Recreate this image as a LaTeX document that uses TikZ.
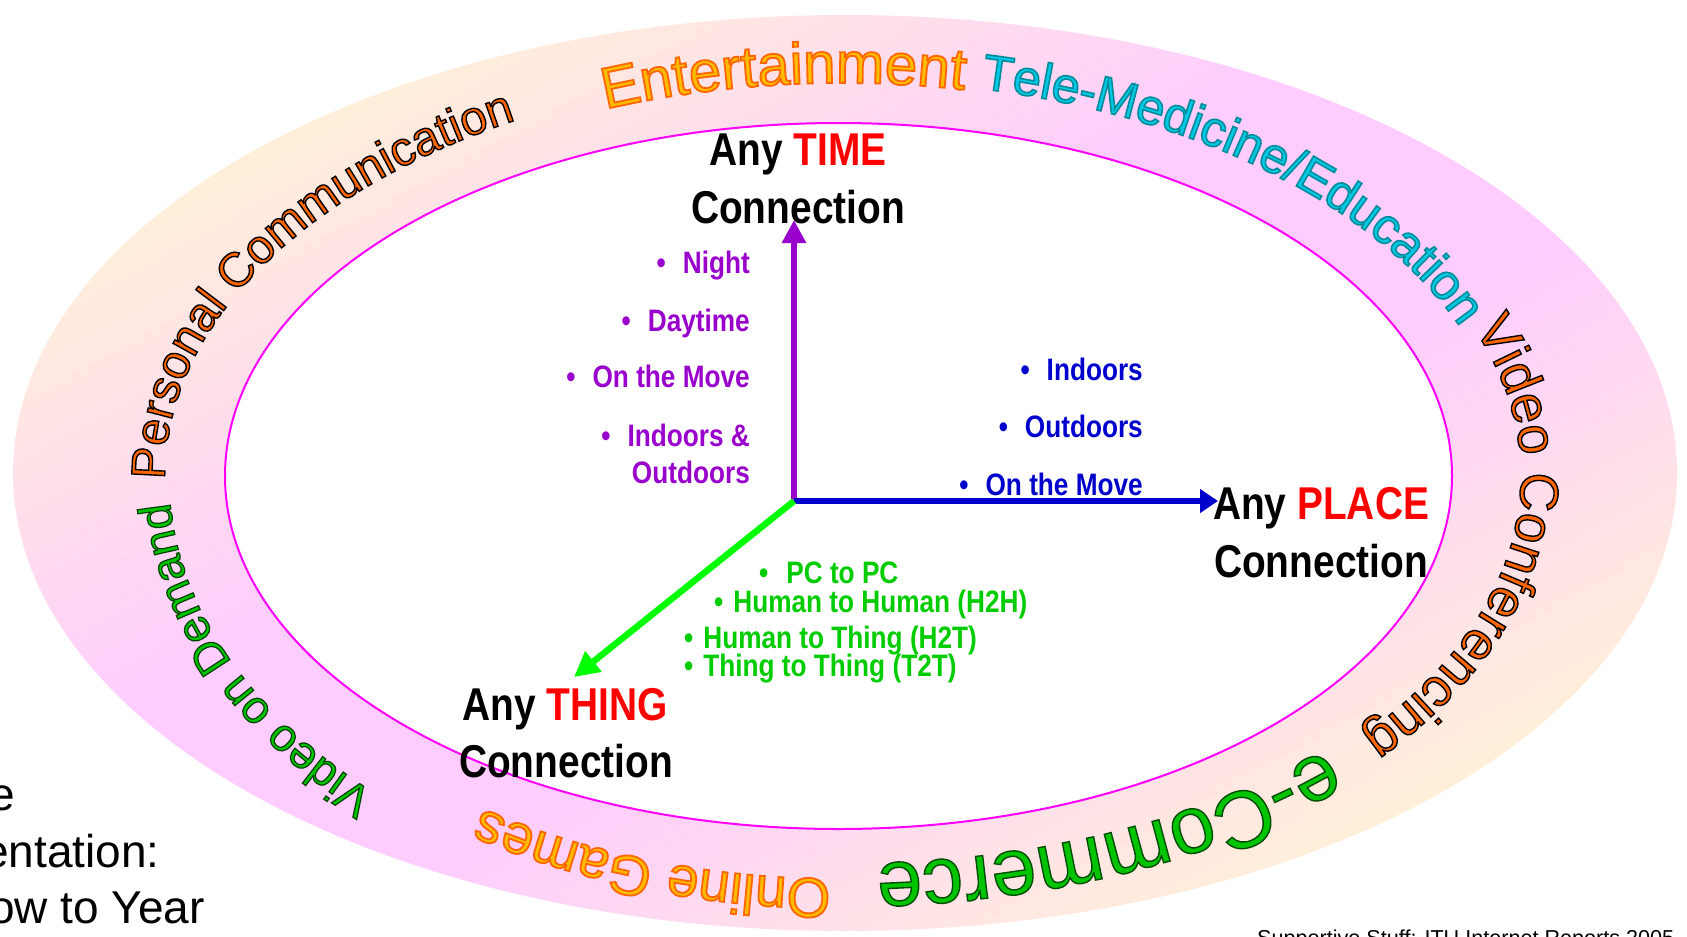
\documentclass[tikz,border=0pt]{standalone}
\usepackage{fontspec}
\setmainfont{Liberation Sans}
\newfontfamily\narrowfont[FakeStretch=0.845]{Liberation Sans}
\usetikzlibrary{decorations.text,arrows.meta}

\definecolor{ringpink}{RGB}{255,204,255}
\definecolor{ringyellow}{RGB}{255,244,212}
\definecolor{ringline}{RGB}{255,0,255}
\definecolor{timepurple}{HTML}{9900CC}
\definecolor{placeblue}{HTML}{0000CC}
\definecolor{thinggreen}{HTML}{00CC00}
\definecolor{arrowgreen}{HTML}{00FF00}
\definecolor{orangefill}{HTML}{FF6600}
\definecolor{goldfill}{HTML}{FFBB00}
\definecolor{tealfill}{HTML}{00C8E6}
\definecolor{greenfill}{HTML}{00C400}
\definecolor{titlered}{RGB}{255,0,0}

% ring colouring: pink across the middle, pale yellow towards two opposite corners
\pgfdeclareverticalshading{ringshade}{200bp}{color(0bp)=(ringyellow); color(45bp)=(ringyellow);
  color(88bp)=(ringpink); color(112bp)=(ringpink); color(155bp)=(ringyellow); color(200bp)=(ringyellow)}

% outlined glyphs: fill colour from \color, stroke colour and width set directly
\newcommand\outlinergb[2]{\special{pdf:literal direct #1 RG #2 w 2 Tr}}
\newcommand\fmtPers{\fontsize{48}{48}\selectfont\color{orangefill}\outlinergb{0 0 0}{1.4}}
\newcommand\fmtEnt{\fontsize{58}{58}\selectfont\color{goldfill}\outlinergb{1 0.4 0}{1.8}}
\newcommand\fmtTele{\fontsize{50}{50}\selectfont\color{tealfill}\outlinergb{0 0.55 0.6}{1.6}}
\newcommand\fmtVC{\fontsize{54}{54}\selectfont\color{orangefill}\outlinergb{0 0 0}{1.4}}
\newcommand\fmtEC{\fontsize{81}{81}\selectfont\color{greenfill}\outlinergb{0 0.3 0}{1.4}}
\newcommand\fmtOG{\fontsize{56}{56}\selectfont\color{goldfill}\outlinergb{1 0.4 0}{1.8}}
\newcommand\fmtVoD{\fontsize{46}{46}\selectfont\color{greenfill}\outlinergb{0 0.25 0}{1.2}}

\newcommand\bulA{\textbullet\hspace{17pt}}
\newcommand\bulB{\textbullet\hspace{10pt}}

\tikzset{
  conn/.style={font=\narrowfont\bfseries\fontsize{46}{46}\selectfont, inner sep=0pt},
  item/.style={font=\narrowfont\bfseries\fontsize{31}{31}\selectfont, inner sep=0pt},
  plain/.style={font=\fontsize{46}{46}\selectfont, inner sep=0pt},
  axis/.style={line width=6.5pt},
  ringtext/.style={decorate, decoration={text along path, text align=left, text={#1}}}
}

\begin{document}
\begin{tikzpicture}[x=1pt,y=1pt]
\useasboundingbox (0,0) rectangle (1687,-937);
\fill[white] (0,0) rectangle (1687,-937);

% shaded ring and inner field
\begin{scope}
  \clip (845,-473) ellipse [x radius=832, y radius=458];
  \begin{scope}[shift={(845,-473)}, xscale=832/50.19, yscale=458/50.19, rotate=45]
    \node[transform shape, inner sep=0pt] (ringfill) at (0,0) {\pgfuseshading{ringshade}};
  \end{scope}
\end{scope}
\fill[white] (838.5,-476) ellipse [x radius=613.5, y radius=353];
\draw[ringline, line width=2pt] (838.5,-476) ellipse [x radius=613.5, y radius=353];

% axes
\coordinate (O) at (794,-501);
\coordinate (timeTip) at (794,-220);
\coordinate (placeTip) at (1218,-501);
\coordinate (thingTip) at (574,-677);
\draw[axis, timepurple, -{Triangle[length=23pt,width=23pt]}] (O) -- (timeTip);
\draw[axis, placeblue, -{Triangle[length=18pt,width=23pt]}] (O) -- (placeTip);
\draw[axis, arrowgreen, -{Triangle[length=25pt,width=25pt]}] (O) -- (thingTip);

% axis titles
\node[conn, anchor=base] (timeA) at (798,-165) {Any \textcolor{titlered}{TIME}};
\node[conn, anchor=base] (timeB) at (798,-223) {Connection};
\node[conn, anchor=base] (placeA) at (1321,-519) {Any \textcolor{titlered}{PLACE}};
\node[conn, anchor=base] (placeB) at (1321,-577) {Connection};
\node[conn, anchor=base] (thingA) at (565,-720) {Any \textcolor{titlered}{THING}};
\node[conn, anchor=base] (thingB) at (566,-777) {Connection};

% time items
\begin{scope}[every node/.style={item, text=timepurple, anchor=base east}]
\node (tNight) at (750,-273) {\bulA Night};
\node (tDay) at (750,-331) {\bulA Daytime};
\node (tMove) at (750,-387) {\bulA On the Move};
\node (tIn) at (750,-446) {\bulA Indoors \&};
\node (tOut) at (750,-483) {Outdoors};
\end{scope}

% place items
\begin{scope}[every node/.style={item, text=placeblue, anchor=base east}]
\node (pIn) at (1143,-380) {\bulA Indoors};
\node (pOut) at (1143,-437) {\bulA Outdoors};
\node (pMove) at (1143,-495) {\bulA On the Move};
\end{scope}

% thing items
\begin{scope}[every node/.style={item, text=thinggreen, anchor=base west}]
\node (gPC) at (759,-583) {\textbullet\hspace{18pt}PC to PC};
\node (gHH) at (714,-612) {\bulB Human to Human (H2H)};
\node (gHT) at (684,-648) {\bulB Human to Thing (H2T)};
\node (gTT) at (684,-676) {\bulB Thing to Thing (T2T)};
\end{scope}

% side text and source line
\node[plain, anchor=base east] (sideA) at (15,-810) {e};
\node[plain, anchor=base east] (sideB) at (160,-867) {entation:};
\node[plain, anchor=base east] (sideC) at (205,-923) {ow to Year};
\node[inner sep=0pt, font=\fontsize{21.6}{21.6}\selectfont, anchor=base west] (src) at (1257,-945.5)
  {Supportive Stuff: ITU Internet Reports 2005};

% application names around the ring
\path[ringtext={|\fmtPers|Personal Communication}]
  (842,-476) ++(180.5:677 and 406) arc[start angle=180.5, end angle=100, x radius=677, y radius=406];
\path[ringtext={|\fmtEnt|Entertainment}]
  (842,-476) ++(111:660 and 393) arc[start angle=111, end angle=60, x radius=660, y radius=393];
\path[ringtext={|\fmtTele|Tele-Medicine/Education}]
  (842,-476) ++(78:667 and 396) arc[start angle=78, end angle=0, x radius=667, y radius=396];
\path[ringtext={|\fmtVC|Video Conferencing}]
  (842,-476) ++(21.5:679 and 404) arc[start angle=21.5, end angle=-60, x radius=679, y radius=404];
\path[ringtext={|\fmtEC|e-Commerce}]
  (842,-476) ++(-44.7:680 and 388) arc[start angle=-44.7, end angle=-100, x radius=680, y radius=388];
\path[ringtext={|\fmtOG|Online Games}]
  (842,-476) ++(-91:637 and 403) arc[start angle=-91, end angle=-150, x radius=637, y radius=403];
\path[ringtext={|\fmtVoD|Video on Demand}]
  (842,-476) ++(-134:673 and 441) arc[start angle=-134, end angle=-200, x radius=673, y radius=441];
\end{tikzpicture}
\end{document}
